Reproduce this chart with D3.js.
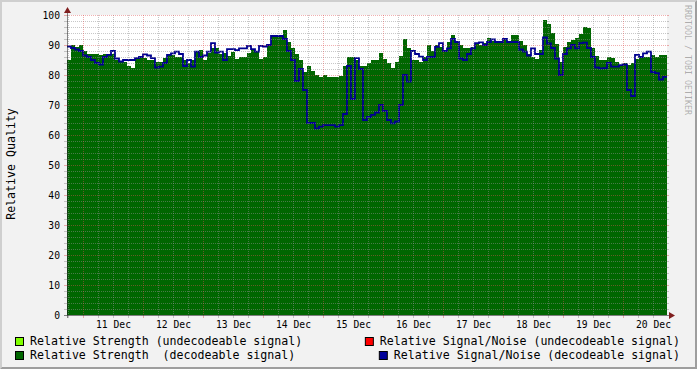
<!DOCTYPE html>
<html>
<head>
<meta charset="utf-8">
<script src="https://cdn.jsdelivr.net/npm/d3@7"></script>
<style>
  body { margin: 0; background: #f2f2f2; }
  svg { display: block; }
  text { font-family: "DejaVu Sans Mono", monospace; }
</style>
</head>
<body>
<svg id="chart"></svg>
<script>

// relative strength (decodeable), one value per 96 minute step
var strength = [
  85, 90, 89.5, 90, 88, 87, 87, 87, 86.7, 87, 87, 87, 85, 84.4, 84.4, 83, 82.5, 85.6, 85.6, 85.6, 85, 85, 84.4, 84.4,
  85.6, 87, 86.7, 86, 86, 85, 84, 85, 87.8, 88.5, 85, 87.2, 88.9, 88.9, 87, 87.2, 86.5, 87.8, 85.5, 86.1, 86.1, 87.2, 88.3, 87.8, 85.5, 86,
  90, 92.8, 93, 93, 95, 91, 89, 87, 85, 81, 83, 81.5, 80, 79.4, 80, 79.4, 79.4, 79.4, 79.6, 83, 86, 86, 85, 83, 83,
  84, 85, 85, 87.5, 85.5, 84, 82.5, 84.4, 86.5, 92, 89, 85, 85, 84.5, 86, 90, 88, 90, 89.4, 88.3, 91, 93.5, 91.5, 90, 89,
  89, 89.4, 90.6, 90, 90.6, 92.5, 91.5, 90.6, 91, 92.2, 91, 93.3, 93.5, 91.5, 90, 87, 86, 85.5, 88.3, 98.5, 97, 94, 90.5, 84.5, 89.4,
  91, 91.7, 92.5, 93.6, 96, 95.8, 89, 86.4, 85, 85, 86, 85.6, 84.4, 83.3, 84, 83.3, 84, 85.5, 86, 86, 86, 86.7, 86, 86.7, 86.7
];

// relative signal/noise (decodeable)
var signalNoise = [
  89.5, 89, 88.5, 88, 86.5, 86, 85, 84, 83.5, 86, 86.7, 88, 85.5, 84.5, 85, 85, 85, 85.6, 86, 86.9, 86.5, 85.6, 82.5, 82.8,
  84, 86.7, 87.2, 87.8, 87, 83, 85, 82.8, 87.8, 86, 86.5, 87.8, 90.6, 87.5, 87.8, 85, 88.6, 88.6, 88.3, 88.9, 88.9, 89.7, 88.6, 87.8, 89.7, 89.5,
  90, 93, 93, 93, 92, 88, 85, 78, 82, 75, 64, 64, 62.2, 62.8, 63.3, 63.3, 63.3, 62.8, 63.3, 67, 83, 72, 85.6, 82, 65,
  66, 66.7, 67.5, 70, 68, 65, 63.9, 64.5, 70, 80, 77.8, 88, 87, 86.1, 85, 86, 86, 89.4, 90.6, 88, 88.9, 92, 91, 85.5, 85,
  87, 88.9, 90.6, 90.9, 90, 91, 91.9, 91, 91, 92, 91, 91, 91, 88.5, 87.8, 86.5, 88.9, 87, 87, 92.5, 90.5, 89, 85.5, 80, 87,
  88.9, 90, 88.9, 90.6, 90.8, 89, 86, 82.5, 82.2, 82.3, 84, 82.8, 82.8, 83.3, 83.5, 75, 73, 86.7, 86, 87.2, 87.8, 81, 80.6, 78.5, 79.4
];

var yTicks = [0, 10, 20, 30, 40, 50, 60, 70, 80, 90, 100];
var dayLabels = ["2008-12-11", "2008-12-12", "2008-12-13", "2008-12-14", "2008-12-15",
                 "2008-12-16", "2008-12-17", "2008-12-18", "2008-12-19", "2008-12-20"];

var legendLabels = [
  "Relative Strength (undecodeable signal)",
  "Relative Signal/Noise (undecodeable signal)",
  "Relative Strength  (decodeable signal)",
  "Relative Signal/Noise (decodeable signal)"
];
var legendColors = ["#80ff00", "#ff0000", "#006600", "#000099"];

var startTime = new Date(Date.UTC(2008, 11, 10, 17, 36));
var endTime = new Date(Date.UTC(2008, 11, 20, 17, 36));
var stepMs = 96 * 60 * 1000;

var svgWidth = 697, svgHeight = 369;
var plotLeft = 67, plotRight = 667, plotTop = 15, plotBottom = 315;

var svg = d3.select("#chart")
  .attr("width", svgWidth)
  .attr("height", svgHeight);

// frame like rrdtool: light top/left, dark bottom/right
svg.append("rect").attr("width", svgWidth).attr("height", svgHeight).attr("fill", "#f2f2f2");
svg.append("path").attr("fill", "#cfcfcf")
  .attr("d", "M0,0H697L695,2H2V367L0,369Z");
svg.append("path").attr("fill", "#9e9e9e")
  .attr("d", "M697,0V369H0L2,367H695V2Z");

var x = d3.scaleUtc().domain([startTime, endTime]).range([plotLeft, plotRight]);
var y = d3.scaleLinear().domain([0, 100]).range([plotBottom, plotTop]);

var points = strength.map(function(v, i) {
  return { t: new Date(startTime.getTime() + i * stepMs), g: v, b: signalNoise[i] };
});
points.push({ t: endTime, g: strength[strength.length - 1], b: signalNoise[signalNoise.length - 1] });

svg.append("rect")
  .attr("x", plotLeft).attr("y", plotTop)
  .attr("width", plotRight - plotLeft).attr("height", plotBottom - plotTop)
  .attr("fill", "#ffffff");

var area = d3.area()
  .curve(d3.curveStepAfter)
  .x(function(d) { return x(d.t); })
  .y0(y(0))
  .y1(function(d) { return y(d.g); });

svg.append("path")
  .datum(points)
  .attr("fill", "#006600")
  .attr("shape-rendering", "crispEdges")
  .attr("d", area);

var line = d3.line()
  .curve(d3.curveStepAfter)
  .x(function(d) { return x(d.t); })
  .y(function(d) { return y(d.b); });

svg.append("path")
  .datum(points)
  .attr("fill", "none")
  .attr("stroke", "#000090")
  .attr("stroke-width", 1.8)
  .attr("d", line);

// grid on top of the data, dashed 1:1
var gridColor = "rgba(143,143,143,0.5)";
var mgridColor = "rgba(222,79,79,0.45)";
var grid = svg.append("g").attr("shape-rendering", "crispEdges");

var minorY = d3.range(0, 101, 2).filter(function(v) { return v % 10 !== 0; });
var minorX = d3.utcHour.every(6).range(startTime, endTime).filter(function(d) { return d.getUTCHours() !== 0; });
var majorX = d3.utcDay.range(startTime, endTime);

function hLines(values, color) {
  grid.selectAll(null).data(values).enter().append("line")
    .attr("x1", plotLeft).attr("x2", plotRight)
    .attr("y1", function(d) { return Math.round(y(d)) + 0.5; })
    .attr("y2", function(d) { return Math.round(y(d)) + 0.5; })
    .attr("stroke", color).attr("stroke-dasharray", "1,1");
  // little ticks outside the canvas
  grid.selectAll(null).data(values).enter().append("line")
    .attr("x1", plotRight).attr("x2", plotRight + 2)
    .attr("y1", function(d) { return Math.round(y(d)) + 0.5; })
    .attr("y2", function(d) { return Math.round(y(d)) + 0.5; })
    .attr("stroke", color);
  grid.selectAll(null).data(values).enter().append("line")
    .attr("x1", plotLeft - 3).attr("x2", plotLeft)
    .attr("y1", function(d) { return Math.round(y(d)) + 0.5; })
    .attr("y2", function(d) { return Math.round(y(d)) + 0.5; })
    .attr("stroke", color);
}

function vLines(values, color) {
  grid.selectAll(null).data(values).enter().append("line")
    .attr("y1", plotTop).attr("y2", plotBottom)
    .attr("x1", function(d) { return Math.round(x(d)) + 0.5; })
    .attr("x2", function(d) { return Math.round(x(d)) + 0.5; })
    .attr("stroke", color).attr("stroke-dasharray", "1,1");
  grid.selectAll(null).data(values).enter().append("line")
    .attr("y1", plotBottom).attr("y2", plotBottom + 3)
    .attr("x1", function(d) { return Math.round(x(d)) + 0.5; })
    .attr("x2", function(d) { return Math.round(x(d)) + 0.5; })
    .attr("stroke", color);
}

hLines(minorY, gridColor);
vLines(minorX, gridColor);
hLines(yTicks.filter(function(v) { return v > 0; }), mgridColor);
vLines(majorX, mgridColor);

// axes
svg.append("line")
  .attr("x1", plotLeft + 0.5).attr("x2", plotLeft + 0.5)
  .attr("y1", plotBottom + 3).attr("y2", plotTop - 3)
  .attr("stroke", "#1f1f1f").attr("stroke-opacity", 0.55);
svg.append("line")
  .attr("x1", plotLeft - 3).attr("x2", plotRight + 3)
  .attr("y1", plotBottom + 0.5).attr("y2", plotBottom + 0.5)
  .attr("stroke", "#1f1f1f").attr("stroke-opacity", 0.55);

svg.append("path").attr("fill", "#801f1f")
  .attr("d", "M" + (plotLeft - 3) + "," + (plotTop - 2) + "L" + (plotLeft + 0.5) + "," + (plotTop - 8) +
             "L" + (plotLeft + 4) + "," + (plotTop - 2) + "Z");
svg.append("path").attr("fill", "#801f1f")
  .attr("d", "M" + (plotRight + 2) + "," + (plotBottom - 3) + "L" + (plotRight + 8) + "," + (plotBottom + 0.5) +
             "L" + (plotRight + 2) + "," + (plotBottom + 4) + "Z");

// y tick labels
svg.append("g")
  .attr("transform", "translate(" + plotLeft + ",0)")
  .call(d3.axisLeft(y).tickValues(yTicks).tickSize(0).tickPadding(7))
  .call(function(g) { g.select(".domain").remove(); })
  .selectAll("text")
  .attr("font-family", "DejaVu Sans Mono")
  .attr("font-size", "9.7px")
  .attr("fill", "#000");

// day labels centred at noon
var noons = dayLabels.map(function(s) { return new Date(s + "T12:00:00Z"); });
svg.append("g")
  .attr("transform", "translate(0," + plotBottom + ")")
  .call(d3.axisBottom(x).tickValues(noons).tickFormat(d3.utcFormat("%d %b")).tickSize(0).tickPadding(6))
  .call(function(g) { g.select(".domain").remove(); })
  .selectAll("text")
  .attr("font-family", "DejaVu Sans Mono")
  .attr("font-size", "9.7px")
  .attr("fill", "#000");

// titles
svg.append("text")
  .attr("transform", "translate(15,164) rotate(-90)")
  .attr("text-anchor", "middle")
  .attr("font-size", "11.6px")
  .text("Relative Quality");

svg.append("text")
  .attr("transform", "translate(684.5,5) rotate(90)")
  .attr("font-size", "8.3px")
  .attr("fill", "rgba(0,0,0,0.3)")
  .text("RRDTOOL / TOBI OETIKER");

// legend, two rows, right column right-aligned
var legend = svg.append("g");
legendLabels.forEach(function(label, i) {
  var row = Math.floor(i / 2);
  var col = i % 2;
  var baseline = 345 + row * 14;
  var t = legend.append("text")
    .attr("y", baseline)
    .attr("font-size", "11.6px")
    .attr("xml:space", "preserve")
    .style("white-space", "pre")
    .text(label);
  var tx;
  if (col === 0) {
    tx = 30;
  } else {
    tx = 680 - t.node().getComputedTextLength();
  }
  t.attr("x", tx);
  legend.append("rect")
    .attr("x", tx - 14.5).attr("y", baseline - 7.5)
    .attr("width", 8).attr("height", 8)
    .attr("fill", legendColors[i])
    .attr("stroke", "#000").attr("stroke-width", 1);
});

</script>
</body>
</html>
